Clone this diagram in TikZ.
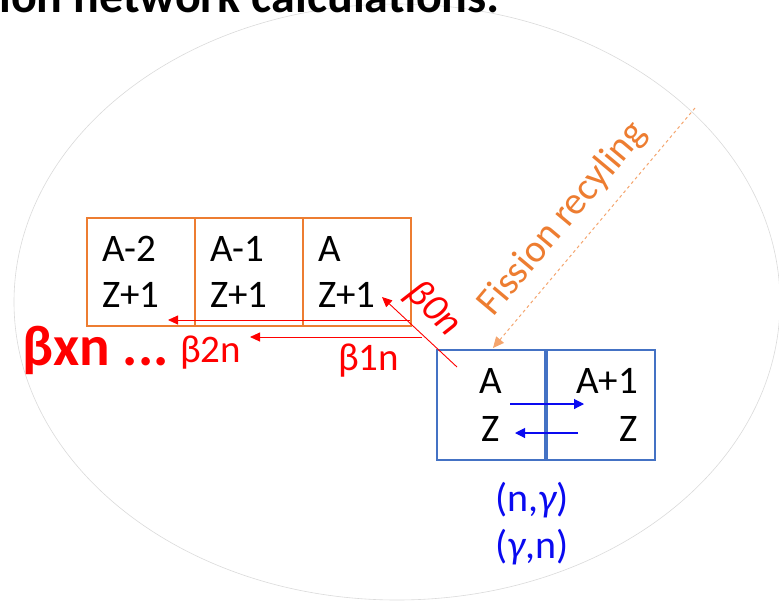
\documentclass[tikz,border=0pt]{standalone}
\usepackage{fontspec}
\setmainfont{Carlito}
\usetikzlibrary{arrows.meta}
\usetikzlibrary{positioning}

\definecolor{cellorange}{RGB}{237,125,49}
\definecolor{cellblue}{RGB}{68,114,196}
\definecolor{dashorange}{RGB}{244,165,110}
\definecolor{ringgray}{RGB}{218,218,218}
\definecolor{ratered}{RGB}{255,0,0}
\definecolor{rateblue}{RGB}{10,10,240}

\tikzset{
  orangecell/.style={draw=cellorange, line width=1.5pt, minimum width=108pt, minimum height=108pt,
    outer sep=0pt, inner xsep=15pt, text width=78pt, align=left, font=\fontsize{39}{46}\selectfont},
  bluecell/.style={draw=cellblue, line width=1.5pt, minimum width=108pt, minimum height=110pt,
    outer sep=0pt, inner xsep=17pt, text width=74pt, font=\fontsize{39}{48}\selectfont},
  redarrow/.style={draw=ratered, line width=0.9pt, -{Triangle[length=10pt,width=9pt]}},
  bluearrow/.style={draw=rateblue, line width=1.1pt, -{Triangle[length=10pt,width=10pt]}},
  redlabel/.style={text=ratered, inner sep=0pt, font=\fontsize{39}{42}\selectfont},
  bluelabel/.style={text=rateblue, inner sep=0pt, font=\fontsize{40}{44}\selectfont}
}

\begin{document}
\begin{tikzpicture}[x=1pt,y=-1pt]
  \useasboundingbox (0,0) rectangle (779,600);

  % faint ring behind everything
  \draw[ringgray, line width=0.6pt] (397,302) ellipse [x radius=383, y radius=298];

  % title, cut at the top edge
  \node[anchor=base west, inner sep=0pt, font=\fontsize{48}{50}\selectfont\bfseries] (title) at (-1,12) {ion network calculations:};

  % Z+1 row
  \node[orangecell] (za2) at (141,272) {A-2\\Z+1};
  \node[orangecell, right=0pt of za2] (za1) {A-1\\Z+1};
  \node[orangecell, right=0pt of za1] (za0) {A\\Z+1};

  % Z row
  \node[bluecell, align=center] (zc) at (491,405) {A\\Z};
  \node[bluecell, align=right, right=2pt of zc] (zn) {A+1\\Z};

  % arrow ends
  \coordinate (b0s) at (457,367);
  \coordinate (b0e) at (382,297);
  \coordinate (b1s) at (422,337);
  \coordinate (b1e) at (250,337);
  \coordinate (b2s) at (410,320);
  \coordinate (b2e) at (168,320);
  \coordinate (ngs) at (510,404);
  \coordinate (nge) at (584,404);
  \coordinate (gns) at (578,433);
  \coordinate (gne) at (515,433);
  \coordinate (fiss) at (695,108);
  \coordinate (fise) at (493,348);

  % beta-delayed neutron emission
  \draw[redarrow] (b0s) -- (b0e);
  \draw[redarrow] (b1s) -- (b1e);
  \draw[redarrow] (b2s) -- (b2e);
  \node[redlabel, rotate=-45] (lb0) at (433,309) {\itshape β0n};
  \node[redlabel, anchor=base west] (lb1) at (338,370) {β1n};
  \node[redlabel, anchor=base west] (lb2) at (180,362) {β2n};
  \node[redlabel, anchor=base west, font=\fontsize{57}{60}\selectfont\bfseries] (lbx) at (22,365) {βxn ...};

  % neutron capture and photodisintegration
  \draw[bluearrow] (ngs) -- (nge);
  \draw[bluearrow] (gns) -- (gne);
  \node[bluelabel] (lng) at (532,500) {(n,{\itshape γ})};
  \node[bluelabel] (lgn) at (532,547) {({\itshape γ},n)};

  % fission recycling
  \draw[dashorange, line width=1pt, dash pattern=on 3pt off 3pt, -{Triangle[length=11pt,width=10pt]}] (fiss) -- (fise);
  \node[text=cellorange, inner sep=0pt, rotate=50, font=\fontsize{39}{42}\selectfont] (lfis) at (563,219) {Fission recyling};

\end{tikzpicture}
\end{document}
